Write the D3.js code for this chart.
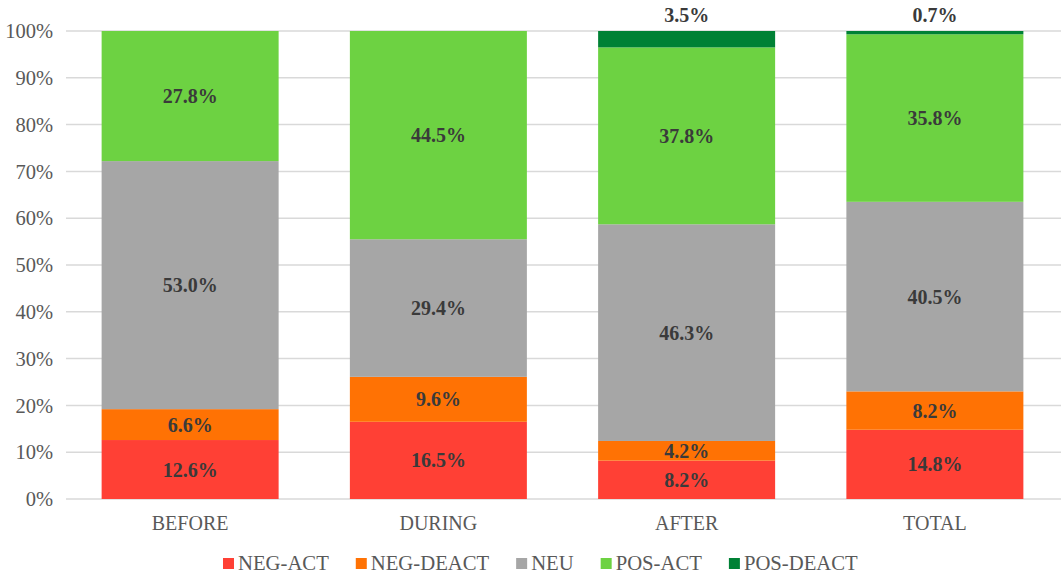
<!DOCTYPE html>
<html>
<head>
<meta charset="utf-8">
<script src="https://cdn.jsdelivr.net/npm/d3@7"></script>
<style>
  body { margin: 0; background: #fff; }
</style>
</head>
<body>
<script>
// ---- data ----
var categories = ["BEFORE", "DURING", "AFTER", "TOTAL"];
var seriesNames = ["NEG-ACT", "NEG-DEACT", "NEU", "POS-ACT", "POS-DEACT"];
var seriesColors = ["#ff4035", "#ff7204", "#a6a6a6", "#6dd242", "#008135"];
var negAct   = [12.6, 16.5, 8.2, 14.8];
var negDeact = [6.6, 9.6, 4.2, 8.2];
var neu      = [53.0, 29.4, 46.3, 40.5];
var posAct   = [27.8, 44.5, 37.8, 35.8];
var posDeact = [0, 0, 3.5, 0.7];
var yTicks = [0, 10, 20, 30, 40, 50, 60, 70, 80, 90, 100];

var W = 1061, H = 578;
var margin = {top: 31, right: 2, bottom: 79, left: 66};
var FONT = "'Liberation Serif'";

var svg = d3.select("body").append("svg")
  .attr("width", W).attr("height", H);

var x = d3.scaleBand()
  .domain(categories)
  .range([margin.left, W - margin.right])
  .paddingInner(0.287)
  .paddingOuter(0.1435);

var y = d3.scaleLinear()
  .domain([0, 100])
  .range([H - margin.bottom, margin.top]);

// build rows for the stack
var rows = categories.map(function(c, i) {
  return {cat: c, "NEG-ACT": negAct[i], "NEG-DEACT": negDeact[i], "NEU": neu[i],
          "POS-ACT": posAct[i], "POS-DEACT": posDeact[i]};
});
var stacked = d3.stack().keys(seriesNames)(rows);
var color = d3.scaleOrdinal().domain(seriesNames).range(seriesColors);

// gridlines
svg.append("g").selectAll("line")
  .data(yTicks)
  .enter().append("line")
    .attr("x1", margin.left).attr("x2", W)
    .attr("y1", function(d){ return y(d); })
    .attr("y2", function(d){ return y(d); })
    .attr("stroke", "#d9d9d9")
    .attr("stroke-width", 1.5);

// y tick labels
svg.append("g").selectAll("text")
  .data(yTicks)
  .enter().append("text")
    .attr("x", 53)
    .attr("y", function(d){ return y(d); })
    .attr("dy", "0.35em")
    .attr("text-anchor", "end")
    .style("font-family", FONT)
    .style("font-size", "20.5px")
    .attr("fill", "#595959")
    .text(function(d){ return d + "%"; });

// bars
var layers = svg.append("g").selectAll("g")
  .data(stacked)
  .enter().append("g")
    .attr("fill", function(d){ return color(d.key); });

layers.selectAll("rect")
  .data(function(d){ return d; })
  .enter().append("rect")
    .attr("x", function(d){ return x(d.data.cat); })
    .attr("width", x.bandwidth())
    .attr("y", function(d){ return y(d[1]); })
    .attr("height", function(d){ return y(d[0]) - y(d[1]); });

// data labels
stacked.forEach(function(layer) {
  var top = layer.key === "POS-DEACT";
  svg.append("g").selectAll("text")
    .data(layer.filter(function(d){ return d[1] - d[0] > 0; }))
    .enter().append("text")
      .attr("x", function(d){ return x(d.data.cat) + x.bandwidth() / 2; })
      .attr("y", function(d){ return top ? y(100) - 9 : y((d[0] + d[1]) / 2); })
      .attr("dy", top ? "0" : "0.35em")
      .attr("text-anchor", "middle")
      .style("font-family", FONT)
      .style("font-size", "20px")
      .style("font-weight", "bold")
      .attr("fill", "#3a3a3a")
      .text(function(d){ return (d[1] - d[0]).toFixed(1) + "%"; });
});

// x labels
svg.append("g").selectAll("text")
  .data(categories)
  .enter().append("text")
    .attr("x", function(d){ return x(d) + x.bandwidth() / 2; })
    .attr("y", 523)
    .attr("dy", "0.35em")
    .attr("text-anchor", "middle")
    .style("font-family", FONT)
    .style("font-size", "20px")
    .attr("fill", "#595959")
    .text(function(d){ return d; });

// legend
var legend = svg.append("g");
var items = legend.selectAll("g")
  .data(seriesNames)
  .enter().append("g");
items.append("rect")
  .attr("width", 11).attr("height", 11)
  .attr("y", 558)
  .attr("fill", function(d){ return color(d); });
items.append("text")
  .attr("x", 15)
  .attr("y", 563)
  .attr("dy", "0.35em")
  .style("font-family", FONT)
  .style("font-size", "20.7px")
  .attr("fill", "#595959")
  .text(function(d){ return d; });

var pos = 223;
items.each(function() {
  var g = d3.select(this);
  g.attr("transform", "translate(" + pos + ",0)");
  pos += 15 + g.select("text").node().getComputedTextLength() + 27;
});
</script>
</body>
</html>
